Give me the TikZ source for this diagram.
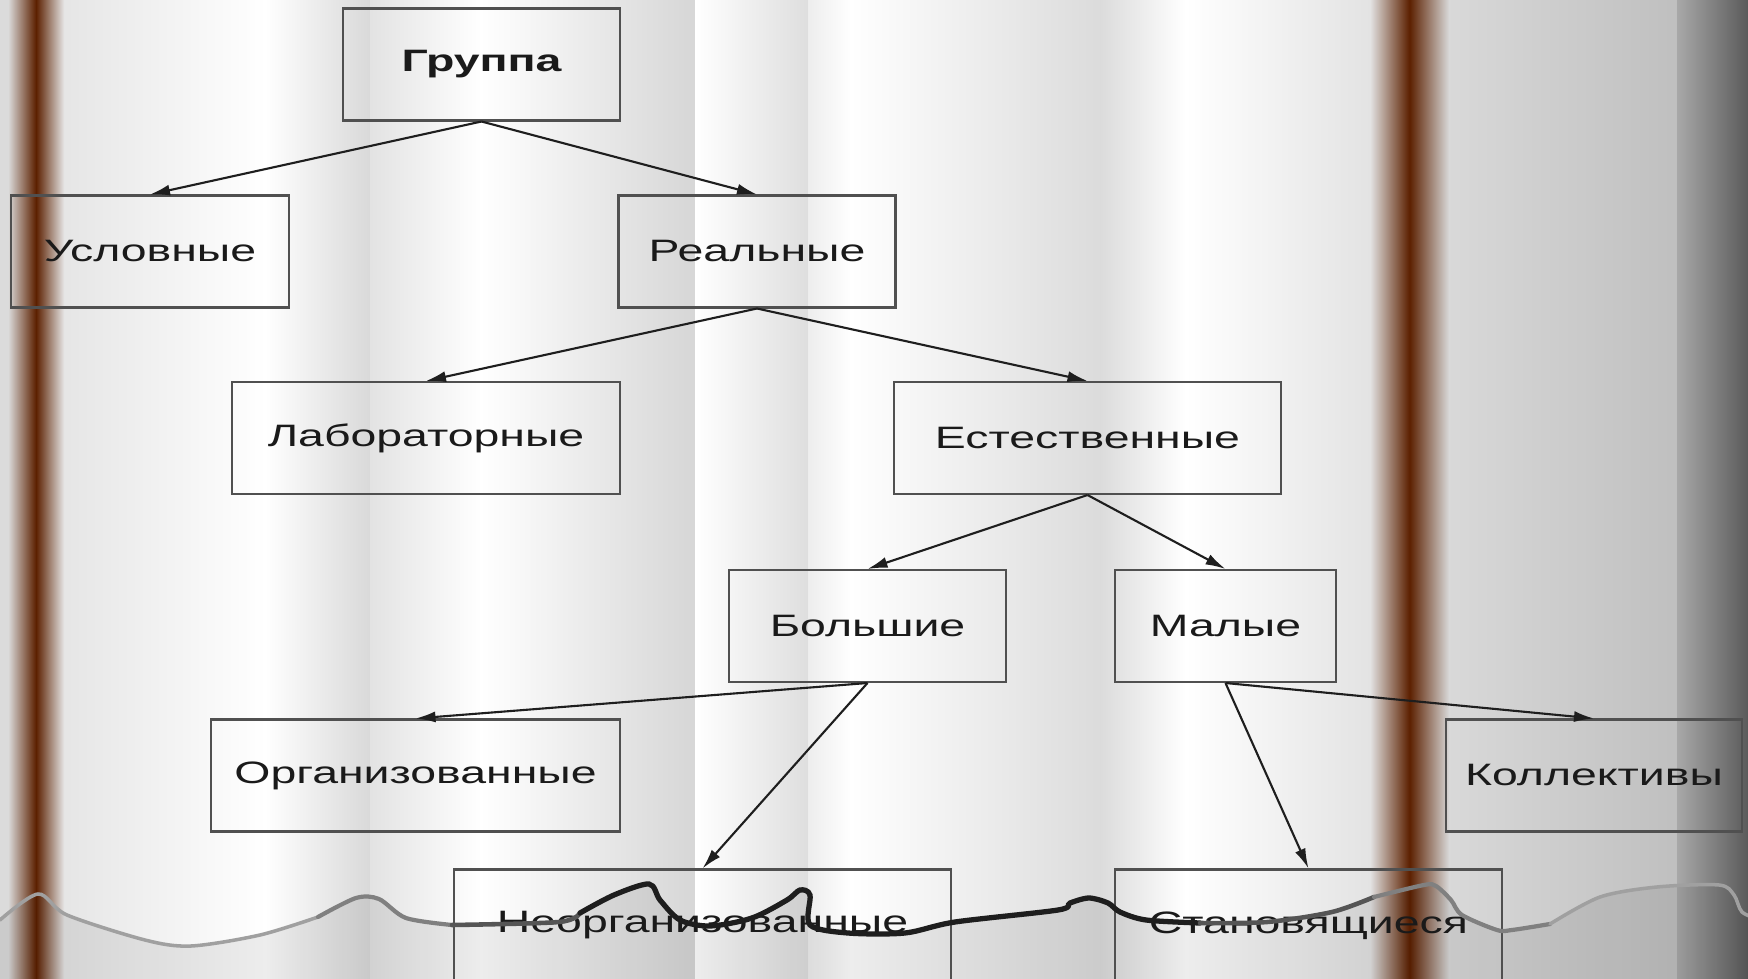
\documentclass[tikz,border=0pt]{standalone}
\usepackage{fontspec}
\setmainfont{Liberation Sans}
\newfontfamily\boxFont[FakeStretch=1.5]{Liberation Sans}
\usetikzlibrary{arrows.meta}

\begin{document}
\begin{tikzpicture}[x=0.01cm, y=-0.01cm,
    >={Latex[length=2mm,width=1.1mm]},
    box/.style={draw=borderColour, line width=0.7pt, rectangle, minimum height=1.115cm, inner sep=0pt,
        font=\boxFont\fontsize{8.8pt}{10pt}\selectfont, text=textColour},
    link/.style={->, draw=arrowColour, line width=0.6pt}]
    \definecolor{borderColour}{HTML}{505050}
    \definecolor{arrowColour}{HTML}{1E1E1E}
    \definecolor{textColour}{HTML}{1A1A1A}
    \definecolor{stripeColour}{HTML}{5C2000}
    \definecolor{waveLight}{HTML}{A0A0A0}
    \definecolor{waveGrey}{HTML}{808080}
    \definecolor{waveMid}{HTML}{555555}
    \definecolor{waveDark}{HTML}{1E1E1E}

    \def\pageWidth{1748}
    \def\pageHeight{979}

    \useasboundingbox (0,0) rectangle (\pageWidth,\pageHeight);
    \clip (0,0) rectangle (\pageWidth,\pageHeight);

    % Draw background folds
    \foreach \xa/\xb/\ca/\cb in {0/8/black!14/black!14, 63/265/black!10/white, 265/370/white/black!15,
        370/480/black!11/white, 480/695/white/black!16, 695/808/white/black!13, 808/850/black!7/white,
        850/1100/white/black!14, 1100/1185/black!14/white, 1185/1370/white/black!11,
        1448/1677/black!15/black!25, 1677/1748/black!34/black!65}
        \shade[left color=\ca, right color=\cb] (\xa,0) rectangle (\xb+1,\pageHeight);

    % Draw brown stripes
    \shade[left color=black!14, right color=black!10, middle color=stripeColour] (8,0) rectangle (64,\pageHeight);
    \shade[left color=black!11, right color=black!15, middle color=stripeColour] (1370,0) rectangle (1449,\pageHeight);

    % Darker floor below the wave
    \fill[black, opacity=0.07] (0,\pageHeight) -- plot[smooth, tension=0.5] coordinates {(0,920) (38,894) (67,915)
        (145,940) (191,946) (260,935) (318,917) (356,898) (379,899) (406,918) (452,925) (559,922) (580,913)
        (614,895) (649,884) (660,900) (680,920) (710,926) (752,918) (787,900) (800,890) (810,895) (810,925)
        (848,933) (905,933) (955,922) (1058,910) (1070,903) (1089,898) (1108,903) (1120,912) (1146,920)
        (1200,923) (1267,922) (1332,912) (1374,897) (1424,885) (1436,886) (1451,900) (1462,915) (1497,930)
        (1512,930) (1550,924) (1600,897) (1657,887) (1719,885) (1734,895) (1742,912) (1760,920)}
        -- (1760,\pageHeight) -- cycle;

    % Boxes
    \node[box, minimum width=2.77cm] (group) at (481.5,64.5) {\bfseries Группа};
    \node[box, minimum width=2.78cm] (nominal) at (150,251.5) {Условные};
    \node[box, minimum width=2.77cm] (real) at (757,251.5) {Реальные};
    \node[box, minimum width=3.88cm] (lab) at (426,438) {Лабораторные};
    \node[box, minimum width=3.87cm] (natural) at (1087.5,438) {Естественные};
    \node[box, minimum width=2.77cm] (large) at (867.5,626) {Большие};
    \node[box, minimum width=2.21cm] (small) at (1225.5,626) {Малые};
    \node[box, minimum width=4.09cm] (organised) at (415.5,775.5) {Организованные};
    \node[box, minimum width=2.96cm] (collective) at (1594,775.5) {Коллективы};
    \node[box, minimum width=4.97cm] (unorganised) at (702.5,925.5) {Неорганизованные};
    \node[box, minimum width=3.87cm] (forming) at (1308.5,925.5) {Становящиеся};

    % Draw links
    \foreach \parent/\child in {group/nominal, group/real, real/lab, real/natural, natural/large,
        natural/small, large/organised, large/unorganised, small/forming, small/collective}
        \draw[link] (\parent.south) -- (\child.north);

    % Draw the wave line
    \draw[waveLight, line width=1pt, line cap=round] plot[smooth, tension=0.5] coordinates {(0,920) (38,894)
        (67,915) (145,940) (191,946) (260,935) (318,917)};
    \draw[waveGrey, line width=1.2pt, line cap=round] plot[smooth, tension=0.5] coordinates {(318,917) (356,898)
        (379,899) (406,918) (452,925)};
    \draw[waveMid, line width=1.3pt, line cap=round] plot[smooth, tension=0.5] coordinates {(452,925) (559,922)
        (580,913)};
    \draw[waveDark, line width=1.5pt, line cap=round] plot[smooth, tension=0.5] coordinates {(580,913) (614,895)
        (649,884) (660,900) (680,920) (710,926) (752,918) (787,900) (800,890) (810,895) (810,925) (848,933)
        (905,933) (955,922) (1058,910) (1070,903) (1089,898) (1108,903) (1120,912) (1146,920) (1200,923)};
    \draw[waveMid, line width=1.3pt, line cap=round] plot[smooth, tension=0.5] coordinates {(1200,923) (1267,922)
        (1332,912) (1374,897)};
    \draw[waveGrey, line width=1.2pt, line cap=round] plot[smooth, tension=0.5] coordinates {(1374,897) (1424,885)
        (1436,886) (1451,900) (1462,915) (1497,930) (1512,930) (1550,924)};
    \draw[waveLight, line width=1pt, line cap=round] plot[smooth, tension=0.5] coordinates {(1550,924) (1600,897)
        (1657,887) (1719,885) (1734,895) (1742,912) (1760,920)};

\end{tikzpicture}
\end{document}
